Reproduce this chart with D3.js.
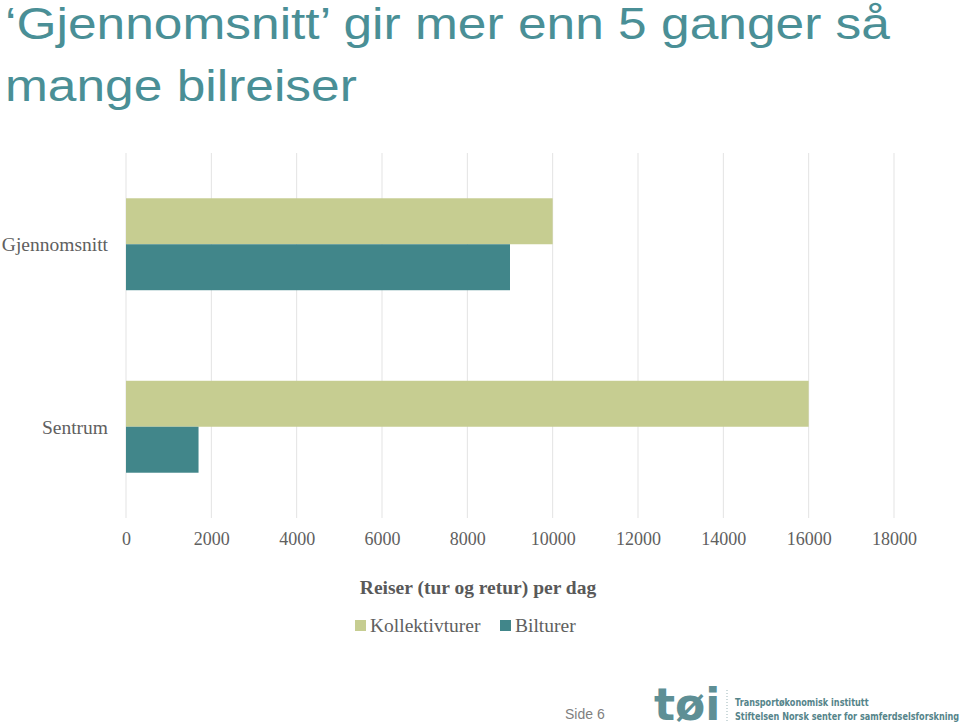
<!DOCTYPE html>
<html>
<head>
<meta charset="utf-8">
<script src="https://cdn.jsdelivr.net/npm/d3@7/dist/d3.min.js"></script>
<style>
  html, body { margin: 0; padding: 0; background: #ffffff; }
  svg { display: block; }
</style>
</head>
<body>
<svg id="chart" width="960" height="725"></svg>
<script>
const categories = ["Gjennomsnitt", "Sentrum"];
const seriesNames = ["Kollektivturer", "Bilturer"];
const kollektivturer = [10000, 16000];
const bilturer = [9000, 1700];
const tickValues = [0, 2000, 4000, 6000, 8000, 10000, 12000, 14000, 16000, 18000];
const titleLines = ["\u2018Gjennomsnitt\u2019 gir mer enn 5 ganger så", "mange bilreiser"];
const axisTitle = "Reiser (tur og retur) per dag";
const colors = ["#c6cd91", "#41868a"];

const svg = d3.select("#chart");
const serif = "'Liberation Serif', 'DejaVu Serif', serif";
const sans = "'Liberation Sans', Arial, sans-serif";
const labelGrey = "#606060";

// Title (horizontally stretched sans)
const title = svg.append("g").attr("transform", "translate(5,0) scale(1.17,1)");
title.selectAll("text").data(titleLines).join("text")
  .attr("x", 0).attr("y", (d, i) => 39 + i * 62)
  .attr("font-family", sans).attr("font-size", 44)
  .attr("fill", "#4a8f96")
  .text(d => d);

const plot = { left: 126, right: 894, top: 153, bottom: 518 };
const x = d3.scaleLinear().domain([0, 18000]).range([plot.left, plot.right]);
const y = d3.scaleBand().domain(categories).range([plot.top, plot.bottom]).paddingInner(0.4962).paddingOuter(0.2481);
const ySub = d3.scaleBand().domain(seriesNames).range([0, y.bandwidth()]);

// Gridlines
svg.append("g")
  .selectAll("line").data(tickValues).join("line")
  .attr("x1", d => x(d)).attr("x2", d => x(d))
  .attr("y1", plot.top).attr("y2", plot.bottom)
  .attr("stroke", "#e3e3e3").attr("stroke-width", 1);

// Bars
const data = categories.map((c, i) => ({ cat: c, vals: [kollektivturer[i], bilturer[i]] }));
const groups = svg.append("g").selectAll("g").data(data).join("g")
  .attr("transform", d => `translate(0,${y(d.cat)})`);
groups.selectAll("rect")
  .data(d => d.vals.map((v, j) => ({ name: seriesNames[j], v, j })))
  .join("rect")
  .attr("x", x(0))
  .attr("y", d => ySub(d.name))
  .attr("width", d => x(d.v) - x(0))
  .attr("height", ySub.bandwidth())
  .attr("fill", d => colors[d.j]);

// Category labels
const yAxis = d3.axisLeft(y).tickSize(0).tickPadding(18);
const yg = svg.append("g").attr("transform", `translate(${plot.left},0)`).call(yAxis);
yg.select(".domain").remove();
yg.selectAll("text")
  .attr("font-family", serif).attr("font-size", 19.5).attr("fill", labelGrey)
  .attr("dy", "0.35em");

// X axis tick labels
const xAxis = d3.axisBottom(x).tickValues(tickValues).tickSize(0).tickPadding(14).tickFormat(d3.format("d"));
const xg = svg.append("g").attr("transform", `translate(0,${plot.bottom})`).call(xAxis);
xg.select(".domain").remove();
xg.selectAll("text")
  .attr("font-family", serif).attr("font-size", 18).attr("fill", labelGrey);

// Axis title
svg.append("text")
  .attr("x", 478).attr("y", 594)
  .attr("text-anchor", "middle")
  .attr("font-family", serif).attr("font-size", 19.5).attr("font-weight", "bold")
  .attr("fill", "#595959")
  .text(axisTitle);

// Legend
const legendItems = [{ name: seriesNames[0], x: 355 }, { name: seriesNames[1], x: 500 }];
const lg = svg.append("g").selectAll("g").data(legendItems).join("g")
  .attr("transform", d => `translate(${d.x},620)`);
lg.append("rect").attr("width", 11).attr("height", 11)
  .attr("fill", (d, i) => colors[i]);
lg.append("text").attr("x", 15).attr("y", 12)
  .attr("font-family", serif).attr("font-size", 19.5).attr("fill", labelGrey)
  .text(d => d.name);

// Footer
svg.append("text").attr("x", 565).attr("y", 719)
  .attr("font-family", sans).attr("font-size", 14).attr("fill", "#7f7f7f")
  .text("Side 6");
svg.append("text").attr("x", 654).attr("y", 720)
  .attr("font-family", "'DejaVu Sans', sans-serif").attr("font-size", 44).attr("font-weight", "bold")
  .attr("fill", "#5e8f95")
  .text("tøi");
svg.append("line").attr("x1", 727).attr("x2", 727).attr("y1", 690).attr("y2", 722)
  .attr("stroke", "#9bb5b8").attr("stroke-width", 1).attr("stroke-dasharray", "1,2");
const logoText = svg.append("g").attr("transform", "translate(735,0) scale(0.74,1)");
logoText.selectAll("text").data(["Transportøkonomisk institutt", "Stiftelsen Norsk senter for samferdselsforskning"]).join("text")
  .attr("x", 0).attr("y", (d, i) => 706 + i * 14)
  .attr("font-family", "'DejaVu Sans', sans-serif").attr("font-size", 11).attr("font-weight", "bold")
  .attr("fill", "#55848a")
  .text(d => d);
</script>
</body>
</html>
